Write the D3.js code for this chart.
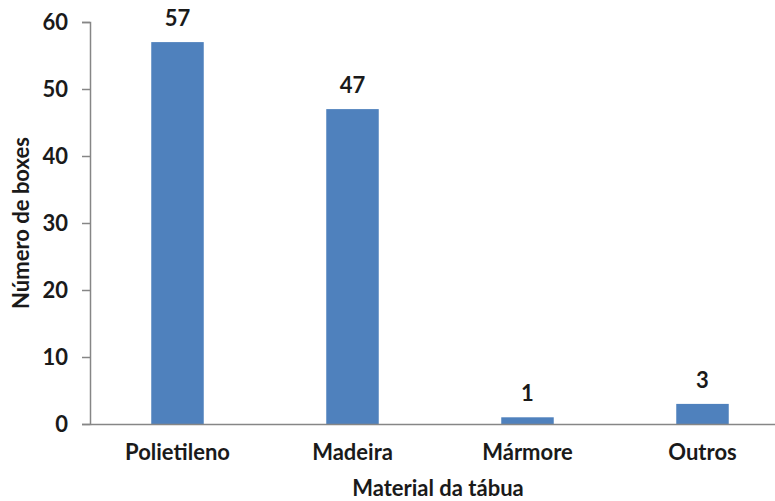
<!DOCTYPE html>
<html><head><meta charset="utf-8">
<script src="https://cdn.jsdelivr.net/npm/d3@7"></script>
<style>body{margin:0;background:#fff}text{font-family:Lato,"Open Sans",sans-serif;font-weight:bold;fill:#1a1a1a}</style>
</head><body><svg id="c" width="775" height="501"></svg>
<script>
const categories = ["Polietileno", "Madeira", "Mármore", "Outros"];
const values = [57, 47, 1, 3];
const yTicks = [0, 10, 20, 30, 40, 50, 60];
const xTitle = "Material da tábua";
const yTitle = "Número de boxes";

const svg = d3.select("#c");
const x = d3.scaleBand().domain(categories).range([90, 790]).paddingInner(0.7).paddingOuter(0.35);
const y = d3.scaleLinear().domain([0, 60]).range([424, 22]);

const yAxis = svg.append("g").attr("transform", "translate(90,0)")
  .call(d3.axisLeft(y).tickValues(yTicks).tickSize(8).tickPadding(14));
yAxis.select(".domain").attr("stroke", "#868686").attr("stroke-width", 1.5);
yAxis.selectAll(".tick line").attr("stroke", "#868686").attr("stroke-width", 1.5);
yAxis.selectAll("text").style("font-size", "22px").attr("dy", "0.35em");

svg.selectAll("rect.bar").data(values).enter().append("rect")
  .attr("class", "bar")
  .attr("x", (d, i) => x(categories[i]))
  .attr("width", x.bandwidth())
  .attr("y", d => y(d))
  .attr("height", d => y(0) - y(d))
  .attr("fill", "#4F81BD");

const xAxis = svg.append("g").attr("transform", "translate(0,424)")
  .call(d3.axisBottom(x).tickSize(0).tickPadding(20));
xAxis.select(".domain").attr("stroke", "#868686").attr("stroke-width", 1.5);
xAxis.selectAll("text").style("font-size", "22px");

svg.selectAll("text.val").data(values).enter().append("text")
  .attr("class", "val")
  .attr("x", (d, i) => x(categories[i]) + x.bandwidth() / 2)
  .attr("y", d => y(d) - 16)
  .attr("text-anchor", "middle")
  .style("font-size", "22px")
  .text(d => d);

svg.append("text").attr("x", 438).attr("y", 496).attr("text-anchor", "middle")
  .style("font-size", "22px").text(xTitle);
svg.append("text").attr("transform", "translate(29,223) rotate(-90)").attr("text-anchor", "middle")
  .style("font-size", "22px").text(yTitle);
</script></body></html>
